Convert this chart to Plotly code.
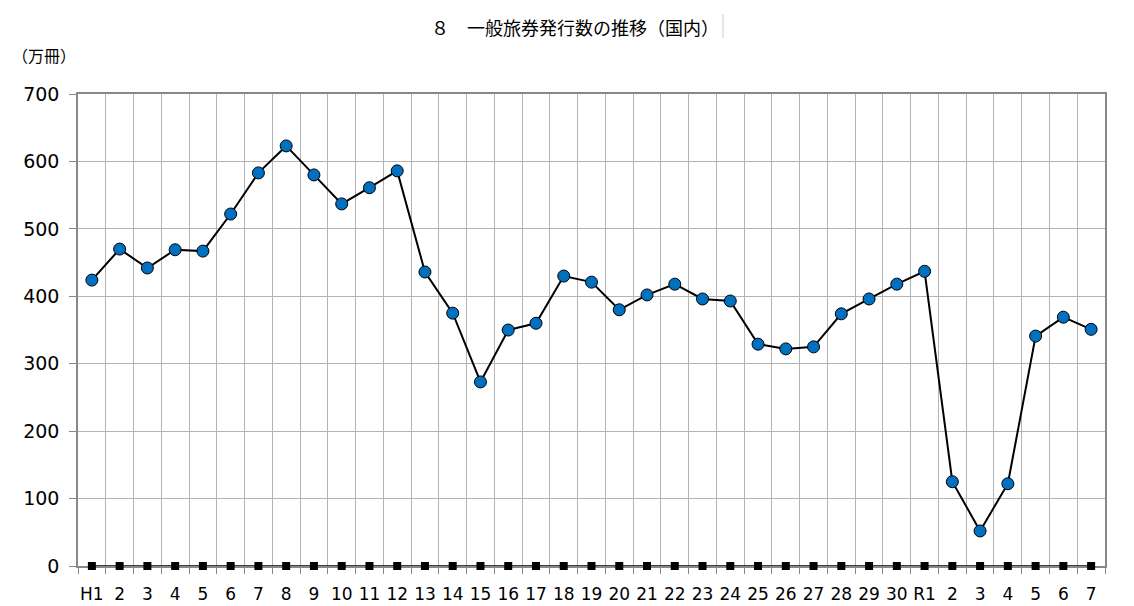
import plotly.graph_objects as go

# Data
year_keys = [f"H{i}" for i in range(1, 31)] + [f"R{i}" for i in range(1, 8)]
tick_labels = ["H1"] + [str(i) for i in range(2, 31)] + ["R1"] + [str(i) for i in range(2, 8)]
issued = [424, 470, 442, 469, 467, 522, 583, 623, 580, 537, 561, 586,
          436, 375, 273, 350, 360, 430, 421, 380, 402, 418, 396, 393,
          329, 322, 325, 374, 396, 418, 437, 125, 52, 122, 341, 369, 351]
zero_series = [0] * len(year_keys)

title_text = "８　一般旅券発行数の推移（国内）"
unit_text = "（万冊）"

# page body has an 8px margin in the browser
OFF = 8
W, H = 1134 - OFF, 606 - OFF
# plot area in absolute page pixels: x 78..1105, y 94..566
L = 78 - OFF
R = (OFF + W) - 1105
T = 94 - OFF
B = (OFF + H) - 566
pw = W - L - R
ph = H - T - B


def px(xabs):
    return (xabs - OFF - L) / pw


def py(yabs):
    return ((OFF + H - B) - yabs) / ph


fig = go.Figure()
fig.add_trace(go.Scatter(
    x=year_keys, y=zero_series, mode="lines+markers",
    line=dict(color="black", width=1.5),
    marker=dict(symbol="square", size=8, color="black"),
    showlegend=False, cliponaxis=False, hoverinfo="skip"))
fig.add_trace(go.Scatter(
    x=year_keys, y=issued, mode="lines+markers",
    line=dict(color="black", width=2),
    marker=dict(symbol="circle", size=12, color="#0070C0",
                line=dict(color="black", width=1)),
    showlegend=False, cliponaxis=False))

fig.update_layout(
    width=W, height=H,
    margin=dict(l=L, r=R, t=T, b=B, autoexpand=False),
    paper_bgcolor="white", plot_bgcolor="white",
    font=dict(family="DejaVu Sans", color="black"),
    annotations=[
        dict(text=title_text, x=px(575), y=py(27), xref="paper", yref="paper",
             showarrow=False, font=dict(family="Noto Sans CJK JP", size=18, color="black"),
             xanchor="center", yanchor="middle"),
        dict(text=unit_text, x=px(44), y=py(55), xref="paper", yref="paper",
             showarrow=False, font=dict(family="Noto Sans CJK JP", size=16, color="black"),
             xanchor="center", yanchor="middle"),
    ],
)

fig.add_shape(type="line", xref="paper", yref="paper",
              x0=px(723), x1=px(723), y0=py(14), y1=py(38),
              line=dict(color="#cccccc", width=1))

fig.update_xaxes(
    type="category", categoryorder="array", categoryarray=year_keys,
    tickmode="array", tickvals=year_keys, ticktext=tick_labels,
    tickson="boundaries", ticks="outside", ticklen=6, tickcolor="#888888",
    tickangle=0, ticklabelstandoff=12, layer="below traces",
    showgrid=True, gridcolor="#b4b4b4", gridwidth=1,
    showline=True, linecolor="#888888", linewidth=1.5, mirror=True,
    tickfont=dict(family="DejaVu Sans", size=17, color="black"),
    range=[-0.5, len(year_keys) - 0.5], zeroline=False)
fig.update_yaxes(
    range=[0, 700], tickvals=[0, 100, 200, 300, 400, 500, 600, 700],
    ticks="outside", ticklen=7, tickcolor="#888888", ticklabelstandoff=6,
    layer="below traces",
    showgrid=True, gridcolor="#b4b4b4", gridwidth=1,
    showline=True, linecolor="#888888", linewidth=1.5, mirror=True,
    zeroline=False,
    tickfont=dict(family="DejaVu Sans", size=19, color="black"))

fig.write_html("out.html")
